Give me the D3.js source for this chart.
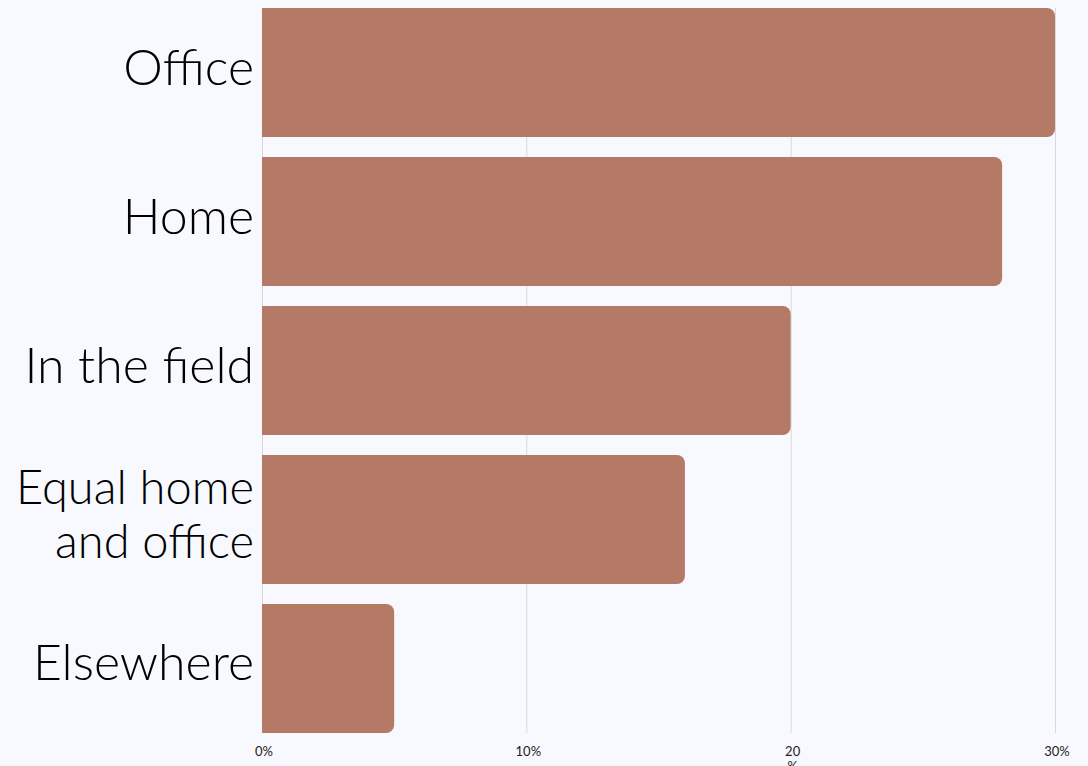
<!DOCTYPE html>
<html>
<head>
<meta charset="utf-8">
<script src="https://cdn.jsdelivr.net/npm/d3@7"></script>
<style>
  html, body { margin: 0; padding: 0; background: #f8f9fe; }
  svg { display: block; }
  .label { font-family: Lato, sans-serif; font-weight: 300; fill: #000; }
  .tick-label { font-family: Lato, sans-serif; font-size: 13px; fill: #222; }
</style>
</head>
<body>
<div id="graphic"></div>
<script>
// Chart data
var categories = ['Office', 'Home', 'In the field', 'Equal home\nand office', 'Elsewhere'];
var values = [30, 28, 20, 16, 5];
var tickValues = [0, 10, 20, 30];
var tickLabels = ['0%', '10%', '20\n%', '30%'];

var width = 1088,
    height = 766;

var margins = { top: 8, right: 33, bottom: 33, left: 262 };

var svg = d3.select('#graphic').append('svg')
    .attr('width', width)
    .attr('height', height);

var x = d3.scaleLinear()
    .domain([0, 30])
    .range([margins.left, width - margins.right]);

var y = d3.scaleBand()
    .domain(categories)
    .range([margins.top, height - margins.bottom])
    .paddingInner(0.134)
    .paddingOuter(0);

// Gridlines
svg.append('g')
    .selectAll('line')
    .data(tickValues)
    .enter().append('line')
    .attr('x1', function(d) { return x(d) + 0.5; })
    .attr('x2', function(d) { return x(d) + 0.5; })
    .attr('y1', margins.top)
    .attr('y2', height - margins.bottom)
    .attr('stroke', '#d9d9dc')
    .attr('stroke-width', 1);

// Bars, rounded on the right side only
var r = 8;
svg.append('g')
    .selectAll('path')
    .data(values)
    .enter().append('path')
    .attr('fill', '#b57a65')
    .attr('d', function(d, i) {
        var x0 = x(0), x1 = x(d),
            y0 = y(categories[i]), y1 = y0 + y.bandwidth();
        var p = d3.path();
        p.moveTo(x0, y0);
        p.lineTo(x1 - r, y0);
        p.arcTo(x1, y0, x1, y0 + r, r);
        p.lineTo(x1, y1 - r);
        p.arcTo(x1, y1, x1 - r, y1, r);
        p.lineTo(x0, y1);
        p.closePath();
        return p.toString();
    });

// Category labels
var labels = svg.append('g')
    .selectAll('text')
    .data(categories)
    .enter().append('text')
    .attr('class', 'label')
    .attr('text-anchor', 'end')
    .attr('y', function(d) { return y(d) + y.bandwidth() / 2 - 6; })
    .style('font-size', function(d) { return d.indexOf('\n') > -1 ? '47px' : '50px'; });

labels.each(function(d) {
    var lines = d.split('\n');
    var el = d3.select(this);
    var lh = 54;
    lines.forEach(function(line, j) {
        el.append('tspan')
            .attr('x', margins.left - 8)
            .attr('dy', j === 0 ? (0.36 * 50 - (lines.length - 1) * lh / 2) + 'px' : lh + 'px')
            .text(line);
    });
});

// Axis tick labels
var ticks = svg.append('g')
    .selectAll('text')
    .data(tickValues)
    .enter().append('text')
    .attr('class', 'tick-label')
    .attr('text-anchor', 'middle')
    .attr('y', height - 10);

ticks.each(function(d, i) {
    var el = d3.select(this);
    tickLabels[i].split('\n').forEach(function(line, j) {
        el.append('tspan')
            .attr('x', x(d) + 2)
            .attr('dy', j === 0 ? 0 : 15)
            .text(line);
    });
});
</script>
</body>
</html>
